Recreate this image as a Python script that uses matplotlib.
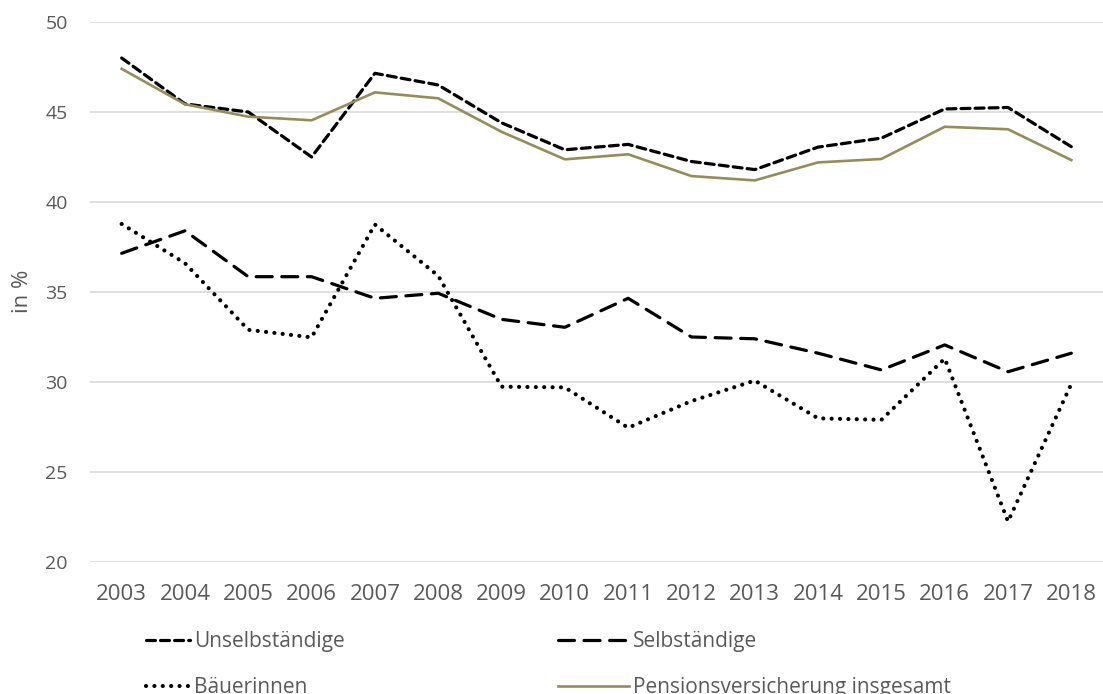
import matplotlib
matplotlib.use("Agg")
import matplotlib.pyplot as plt

years = list(range(2003, 2019))
unselbstaendige = [48.0, 45.45, 45.0, 42.5, 47.15, 46.5, 44.4, 42.9, 43.2, 42.25, 41.8, 43.05, 43.55, 45.17, 45.25, 43.07]
selbstaendige = [37.15, 38.4, 35.85, 35.85, 34.65, 34.93, 33.48, 33.04, 34.65, 32.5, 32.4, 31.6, 30.67, 32.06, 30.57, 31.6]
baeuerinnen = [38.78, 36.6, 32.9, 32.48, 38.75, 35.9, 29.74, 29.7, 27.46, 28.94, 30.08, 27.98, 27.9, 31.3, 22.25, 29.9]
pension = [47.4, 45.43, 44.74, 44.54, 46.09, 45.76, 43.9, 42.37, 42.65, 41.44, 41.2, 42.2, 42.39, 44.18, 44.04, 42.33]

labels = ["Unselbständige", "Selbständige", "Bäuerinnen", "Pensionsversicherung insgesamt"]
yticks = [20, 25, 30, 35, 40, 45, 50]

text_color = "#595959"
gold = "#968C5A"
plt.rcParams['font.family'] = ['Open Sans', 'DejaVu Sans']

fig = plt.figure(figsize=(11.03, 6.94), dpi=100)
ax = fig.add_axes([90/1103, 1-562/694, (1103-90)/1103, 540/694])

l1, = ax.plot(years, unselbstaendige, color="black", lw=2.3, linestyle=(0, (2.8, 1.6)),
              dash_capstyle="round", solid_joinstyle="round", label=labels[0])
l2, = ax.plot(years, selbstaendige, color="black", lw=2.3, linestyle=(0, (5.0, 3.0)),
              dash_capstyle="round", label=labels[1])
l3, = ax.plot(years, baeuerinnen, color="black", lw=3.0, linestyle=(0, (0.01, 2.0)),
              dash_capstyle="round", label=labels[2])
l4, = ax.plot(years, pension, color=gold, lw=1.9, solid_joinstyle="round", label=labels[3])

ax.set_xlim(2002.5, 2018.5)
ax.set_ylim(20, 50)
ax.set_yticks(yticks)
ax.set_xticks(years)
ax.grid(axis="y", color="#D9D9D9", lw=1.2)
ax.set_axisbelow(True)
for s in ax.spines.values():
    s.set_visible(False)
ax.tick_params(axis="both", length=0, colors=text_color)
ax.tick_params(axis="x", pad=16, labelsize=16)
ax.tick_params(axis="y", pad=16, labelsize=14)
fig.text(22/1103, 1-291/694, "in %", rotation=90, fontsize=16, color=text_color,
         ha="center", va="center")

leg1 = fig.legend(handles=[l1, l3], labels=[labels[0], labels[2]],
                  loc="upper left", bbox_to_anchor=(146/1103, 1-631/694),
                  frameon=False, fontsize=15, handlelength=2.1, handletextpad=0.2,
                  labelspacing=1.2, labelcolor=text_color, borderaxespad=0, borderpad=0)
leg2 = fig.legend(handles=[l2, l4], labels=[labels[1], labels[3]],
                  loc="upper left", bbox_to_anchor=(558/1103, 1-631/694),
                  frameon=False, fontsize=15, handlelength=3.4, handletextpad=0.2,
                  labelspacing=1.2, labelcolor=text_color, borderaxespad=0, borderpad=0)

fig.savefig("out.png", dpi=100)
